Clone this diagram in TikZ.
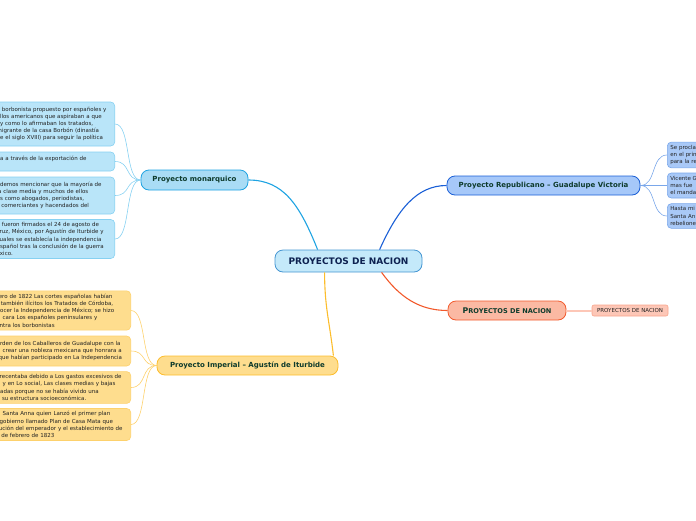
\documentclass[tikz,border=0pt]{standalone}
\usepackage{fontspec}
\setmainfont{DejaVu Sans}
\usetikzlibrary{calc}
\definecolor{cfill}{HTML}{C4E9FA}\definecolor{cdraw}{HTML}{4596D2}
\definecolor{mfill}{HTML}{A9DCF5}\definecolor{mdraw}{HTML}{1EA3E2}
\definecolor{mlfill}{HTML}{B9E5F9}\definecolor{mldraw}{HTML}{86D1F2}
\definecolor{rfill}{HTML}{A6C8F9}\definecolor{rdraw}{HTML}{1A5FD6}
\definecolor{rlfill}{HTML}{A9C9F7}\definecolor{rldraw}{HTML}{7AA7EA}
\definecolor{ofill}{HTML}{FBB9A3}\definecolor{odraw}{HTML}{F25A2C}
\definecolor{olfill}{HTML}{FDC7B7}\definecolor{oldraw}{HTML}{F8A48B}
\definecolor{ifill}{HTML}{FEDD8E}\definecolor{idraw}{HTML}{FCBD2C}
\definecolor{ildraw}{HTML}{FDD16C}
\definecolor{gtext}{HTML}{0E3B2C}\definecolor{ntext}{HTML}{0D2150}
\definecolor{ltext}{HTML}{222222}
\begin{document}
\begin{tikzpicture}[x=1pt,y=-1pt,
  mainbox/.style={draw, line width=0.8pt, rounded corners=8pt, inner sep=0pt,
    text=gtext, font=\bfseries\fontsize{7}{8}\selectfont, minimum height=19pt},
  leafbox/.style={draw, line width=0.6pt, rounded corners=4pt, inner sep=3pt,
    align=left, text=ltext, font=\fontsize{5.5}{7.2}\selectfont},
  edge/.style={line width=1.1pt},
  twig/.style={line width=0.6pt}]
\useasboundingbox (0,0) rectangle (696,520);
\clip (0,0) rectangle (696,520);

% main nodes
\node[mainbox, fill=cfill, draw=cdraw, text=ntext, minimum width=147pt, minimum height=22pt,
  font=\bfseries\fontsize{9}{10}\selectfont] (c) at (348.5,261) {PROYECTOS DE NACION};
\node[mainbox, fill=mfill, draw=mdraw, minimum width=107pt, minimum height=20pt] (mon) at (194.5,180) {Proyecto monarquico};
\node[mainbox, fill=rfill, draw=rdraw, minimum width=193pt] (rep) at (543.5,185.5) {Proyecto Republicano – Guadalupe Victoria};
\node[mainbox, fill=ofill, draw=odraw, minimum width=118pt, font=\bfseries\fontsize{7.8}{8}\selectfont] (ora) at (507,310.5) {P{\fontsize{6.6}{8}\selectfont ROYECTOS DE NACION}};
\node[draw=oldraw, fill=olfill, line width=0.6pt, rounded corners=2pt, inner sep=0pt, minimum width=76pt, minimum height=11pt,
  text=ltext, font=\fontsize{5.5}{6}\selectfont] (ol) at (630,310.5) {PROYECTOS DE NACION};
\node[mainbox, fill=ifill, draw=idraw, minimum width=181pt] (imp) at (247.5,365.5) {Proyecto Imperial – Agustín de Iturbide};

% monarquico leaves
\begin{scope}[every node/.style={leafbox, fill=mlfill, draw=mldraw, text width=115pt, anchor=east}]
\node[minimum height=44pt] (m1) at (115,124) {a borbonista propuesto por españoles y\\ollos americanos que aspiraban a que\\l y como lo afirmaban los tratados,\\migrante de la casa Borbón (dinastía\\de el siglo XVIII) para seguir la política};
\node[minimum height=19pt] (m2) at (115,161.5) {da a través de la exportación de\\\mbox{}};
\node[minimum height=37pt] (m3) at (115,195.5) {odemos mencionar que la mayoría de\\la clase media y muchos de ellos\\es como abogados, periodistas,\\s comerciantes y hacendados del};
\node[minimum height=38pt] (m4) at (115,239) {a fueron firmados el 24 de agosto de\\cruz, México, por Agustín de Iturbide y\\cuales se establecía la independencia\\español tras la conclusión de la guerra\\éxico.};
\end{scope}

% imperial leaves
\begin{scope}[every node/.style={leafbox, fill=ifill, draw=ildraw, text width=131pt, anchor=east}]
\node[minimum height=37pt] (i1) at (131,310.5) {rero de 1822 Las cortes españolas habían\\r también ilícitos los Tratados de Córdoba,\\nocer la Independencia de México; se hizo\\\hspace{6pt}cara Los españoles peninsulares y\\\hspace{3pt}ntra los borbonistas};
\node[minimum height=30pt] (i2) at (131,351) {orden de los Caballeros de Guadalupe con la\\\hspace{6pt}crear una nobleza mexicana que honrara a\\\mbox{\hspace{2pt}que habían participado en La Independencia}};
\node[minimum height=31pt] (i3) at (131,387.5) {crecentaba debido a Los gastos excesivos de\\\hspace{6pt}y en Lo social, Las clases medias y bajas\\nadas porque no se había vivido una\\n su estructura socioeconómica.};
\node[minimum height=31pt] (i4) at (131,424.5) {\hspace{6pt}Santa Anna quien Lanzó el primer plan\\\hspace{3pt}gobierno llamado Plan de Casa Mata que\\tución del emperador y el establecimiento de\\° de febrero de 1823};
\end{scope}

% republicano leaves
\begin{scope}[every node/.style={leafbox, fill=rlfill, draw=rldraw, text width=40pt, anchor=west}]
\node[minimum height=24pt] (r1) at (667,155) {Se procla\\en el prin\\para la re};
\node[minimum height=25pt] (r2) at (667,185.5) {Vicente G\\mas fue\\el manda};
\node[minimum height=24pt] (r3) at (667,216) {Hasta mi\\Santa An\\rebelione};
\end{scope}

% main connectors
\draw[edge, draw=mdraw] ($(c.north west)+(43,0)$) .. controls +(-18,-45) and +(35,0) .. (mon.east);
\draw[edge, draw=rdraw] ($(c.north west)+(105,0)$) .. controls +(18,-40) and +(-30,0) .. (rep.west);
\draw[edge, draw=odraw] ($(c.south west)+(107,0)$) .. controls +(18,25) and +(-28,0) .. (ora.west);
\draw[edge, draw=idraw] ($(c.south west)+(50,0)$) .. controls +(0,35) and +(-4,-35) .. ($(imp.north east)+(-5,0)$);
\draw[line width=2pt, draw=olfill] (ora.east) -- (ol.west);

% twigs
\foreach \n in {m1,m2,m3,m4}
  \draw[twig, draw=mldraw] (mon.west) .. controls +(-16,0) and +(16,0) .. (\n.east);
\foreach \n in {i1,i2,i3,i4}
  \draw[twig, draw=ildraw] (imp.west) .. controls +(-16,0) and +(16,0) .. (\n.east);
\foreach \n in {r1,r2,r3}
  \draw[twig, draw=rldraw] (rep.east) .. controls +(16,0) and +(-16,0) .. (\n.west);
\end{tikzpicture}
\end{document}
